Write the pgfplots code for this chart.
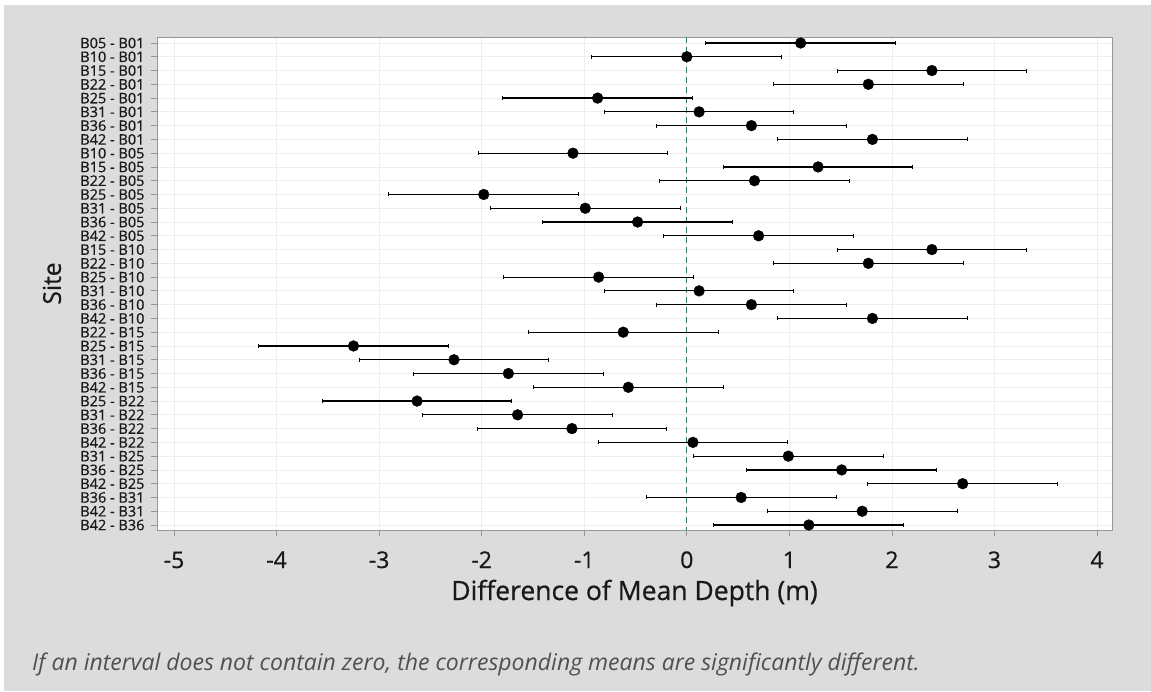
\documentclass[border=0pt]{standalone}
\usepackage{pgfplots}
\pgfplotsset{compat=1.18}
\usepackage{pgfplotstable}
\usepackage{fontspec}
\setmainfont{Open Sans}
\newfontfamily\semib{Open Sans}[FakeBold=0.7]
\definecolor{bggray}{RGB}{220,220,220}
\definecolor{framegray}{RGB}{150,150,150}
\definecolor{gridgray}{RGB}{238,238,238}
\definecolor{zerogreen}{RGB}{50,125,95}
\definecolor{notegray}{RGB}{80,80,80}
\definecolor{textblack}{RGB}{25,25,25}

\pgfplotstableread{
i mean err
0 1.11 0.925
1 0.00 0.925
2 2.39 0.925
3 1.77 0.925
4 -0.87 0.925
5 0.12 0.925
6 0.63 0.925
7 1.81 0.925
8 -1.11 0.925
9 1.28 0.925
10 0.66 0.925
11 -1.98 0.925
12 -0.99 0.925
13 -0.48 0.925
14 0.70 0.925
15 2.39 0.925
16 1.77 0.925
17 -0.86 0.925
18 0.12 0.925
19 0.63 0.925
20 1.81 0.925
21 -0.62 0.925
22 -3.25 0.925
23 -2.27 0.925
24 -1.74 0.925
25 -0.57 0.925
26 -2.63 0.925
27 -1.65 0.925
28 -1.12 0.925
29 0.06 0.925
30 0.99 0.925
31 1.51 0.925
32 2.69 0.925
33 0.53 0.925
34 1.71 0.925
35 1.19 0.925
}\cidata

\begin{document}
\begin{tikzpicture}[x=1pt,y=1pt]
\fill[white] (0pt,0pt) rectangle (1151pt,691pt);
\fill[bggray] (4pt,0pt) rectangle (1151pt,686pt);
\useasboundingbox (0pt,0pt) rectangle (1151pt,691pt);
\begin{axis}[
  at={(157pt,161pt)}, anchor=south west,
  scale only axis, width=955pt, height=493pt,
  xmin=-5.166, xmax=4.146,
  ymin=-0.436, ymax=35.363,
  y dir=reverse,
  axis background/.style={fill=white},
  axis line style={framegray, line width=1pt},
  tick style={framegray, line width=0.8pt},
  tick align=outside,
  xtick={-5,-4,-3,-2,-1,0,1,2,3,4},
  xticklabels={-5,-4,-3,-2,-1,0,1,2,3,4},
  ytick={0,1,...,35},
  yticklabels={B05 - B01,B10 - B01,B15 - B01,B22 - B01,B25 - B01,B31 - B01,B36 - B01,B42 - B01,B10 - B05,B15 - B05,B22 - B05,B25 - B05,B31 - B05,B36 - B05,B42 - B05,B15 - B10,B22 - B10,B25 - B10,B31 - B10,B36 - B10,B42 - B10,B22 - B15,B25 - B15,B31 - B15,B36 - B15,B42 - B15,B25 - B22,B31 - B22,B36 - B22,B42 - B22,B31 - B25,B36 - B25,B42 - B25,B36 - B31,B42 - B31,B42 - B36},
  xtick pos=bottom, ytick pos=left,
  major tick length=6pt,
  xticklabel style={font=\semib\fontsize{23}{23}\selectfont, text=textblack, anchor=base, yshift=-32pt},
  yticklabel style={font=\semib\fontsize{14.5}{14.5}\selectfont, text=textblack, xshift=-3pt},
  grid=major,
  grid style={gridgray, line width=0.8pt},
  xlabel={Difference of Mean Depth (m)},
  ylabel={Site},
  every axis x label/.style={at={(axis description cs:0.5,-0.142)}, anchor=base, font=\semib\fontsize{26.5}{26.5}\selectfont, text=textblack},
  every axis y label/.style={at={(axis description cs:-0.110,0.5)}, anchor=center, rotate=90, font=\semib\fontsize{24.5}{24.5}\selectfont, text=textblack},
  clip=false,
]
\addplot[zerogreen, line width=1.3pt, dash pattern=on 6pt off 4pt] coordinates {(0,-0.436) (0,35.363)};
\addplot[only marks, mark=*, mark size=5.4pt, black,
  error bars/.cd, x dir=both, x explicit,
  error bar style={black, line width=1.2pt},
  error mark=|, error mark options={black, mark size=2pt, line width=1pt}]
  table[x=mean, y=i, x error=err] {\cidata};
\end{axis}
\node[anchor=base west, font=\fontsize{23}{23}\selectfont\itshape, text=notegray, inner sep=0pt] at (32pt,21pt) {If an interval does not contain zero, the corresponding means are significantly different.};
\end{tikzpicture}
\end{document}
